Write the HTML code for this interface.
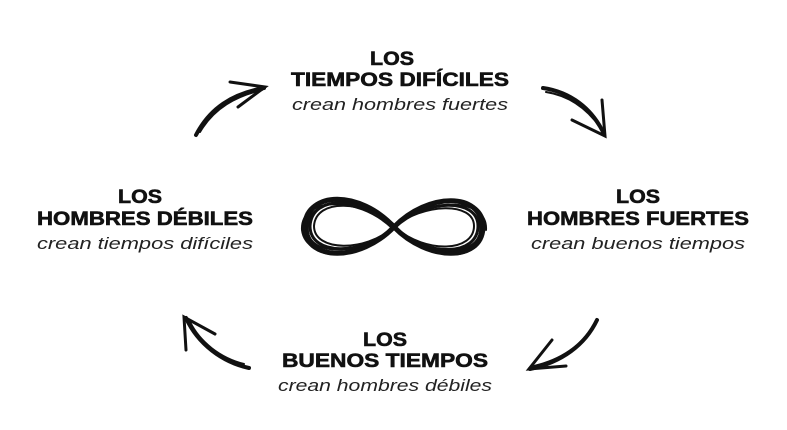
<!DOCTYPE html>
<html><head><meta charset="utf-8"><style>
html,body{margin:0;padding:0;background:#fff;}
svg{display:block}
.b{font-family:"Liberation Sans",sans-serif;font-weight:bold;font-size:19px;fill:#111;stroke:#111;stroke-width:0.6}
.i{font-family:"Liberation Sans",sans-serif;font-style:italic;font-size:17px;fill:#222}
.a{fill:none;stroke:#111;stroke-linecap:round}
</style></head><body>
<svg width="787" height="430" viewBox="0 0 787 430">
<rect width="787" height="430" fill="#fff"/>
<text class="b" x="392" y="65" text-anchor="middle" textLength="44" lengthAdjust="spacingAndGlyphs">LOS</text>
<text class="b" x="400" y="86" text-anchor="middle" textLength="218" lengthAdjust="spacingAndGlyphs">TIEMPOS DIFÍCILES</text>
<text class="i" x="400" y="110" text-anchor="middle" textLength="216" lengthAdjust="spacingAndGlyphs">crean hombres fuertes</text>
<text class="b" x="140" y="203" text-anchor="middle" textLength="44" lengthAdjust="spacingAndGlyphs">LOS</text>
<text class="b" x="145" y="225" text-anchor="middle" textLength="216" lengthAdjust="spacingAndGlyphs">HOMBRES DÉBILES</text>
<text class="i" x="145" y="249" text-anchor="middle" textLength="216" lengthAdjust="spacingAndGlyphs">crean tiempos difíciles</text>
<text class="b" x="638" y="203" text-anchor="middle" textLength="44" lengthAdjust="spacingAndGlyphs">LOS</text>
<text class="b" x="638" y="225" text-anchor="middle" textLength="222" lengthAdjust="spacingAndGlyphs">HOMBRES FUERTES</text>
<text class="i" x="638" y="249" text-anchor="middle" textLength="214" lengthAdjust="spacingAndGlyphs">crean buenos tiempos</text>
<text class="b" x="385" y="346" text-anchor="middle" textLength="44" lengthAdjust="spacingAndGlyphs">LOS</text>
<text class="b" x="385" y="367" text-anchor="middle" textLength="206" lengthAdjust="spacingAndGlyphs">BUENOS TIEMPOS</text>
<text class="i" x="385" y="391" text-anchor="middle" textLength="214" lengthAdjust="spacingAndGlyphs">crean hombres débiles</text>
<g class="a">
<path d="M394 227 C360 190 306 190 306 227 C306 262 360 262 394 227 C428 192 482 192 482 227 C482 262 428 262 394 227Z" stroke-width="5"/>
<path d="M394 228 C358 186 302 192 304 228 C306 265 362 260 394 226 C430 190 486 194 484 228 C482 264 426 262 394 226" stroke-width="3"/>
<path d="M394 226 C362 196 312 194 310 226 C310 256 362 256 394 228 C426 198 478 198 478 226 C478 256 428 258 394 228" stroke-width="3"/>
<path d="M392 228 C356 194 300 198 302 230 C306 262 366 260 396 226 C432 196 488 198 486 230" stroke-width="2"/>
<path d="M396 226 C364 200 316 198 314 226 C314 252 366 252 392 228 C424 202 474 202 474 226 C474 252 426 254 396 228" stroke-width="2"/>
<path d="M394 228 C360 192 304 196 308 232 C312 258 364 254 394 228 C430 194 484 200 480 232 C476 258 424 256 394 228" stroke-width="2"/>
</g>
<g class="a">
<path d="M196 135 C210 108 232 94 264 88" stroke-width="4"/>
<path d="M200 132 C214 108 236 96 262 90" stroke-width="2"/>
<path d="M230 82 L265 87 L238 107" stroke-width="3"/>
<path d="M543 88 C570 92 592 108 604 134" stroke-width="4"/>
<path d="M546 92 C572 96 590 112 602 130" stroke-width="2"/>
<path d="M572 120 L605 136 L602 100" stroke-width="3"/>
<path d="M597 320 C585 345 562 362 530 369" stroke-width="4"/>
<path d="M594 324 C582 346 560 360 534 366" stroke-width="2"/>
<path d="M552 340 L529 369 L566 366" stroke-width="3"/>
<path d="M249 368 C222 362 198 344 186 318" stroke-width="4"/>
<path d="M244 364 C220 358 200 342 190 322" stroke-width="2"/>
<path d="M186 350 L184 317 L215 334" stroke-width="3"/>
</g>
</svg>
</body></html>
